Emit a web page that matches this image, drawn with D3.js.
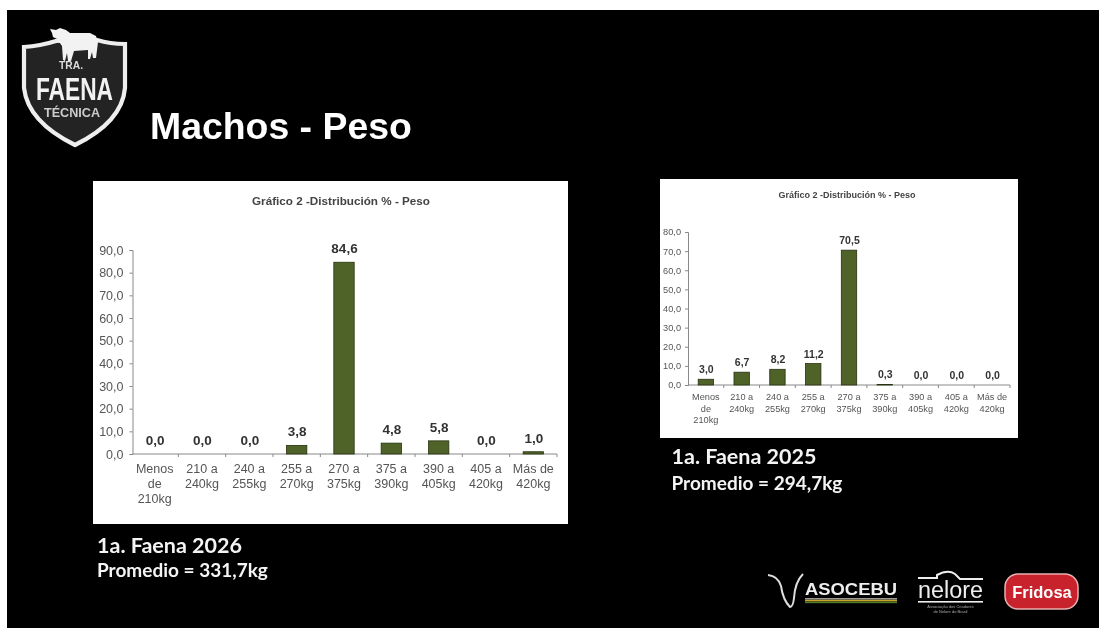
<!DOCTYPE html>
<html>
<head>
<meta charset="utf-8">
<script src="https://cdn.jsdelivr.net/npm/d3@7"></script>
<style>
  html, body { margin: 0; padding: 0; background: #fff; overflow: hidden; }
  svg { display: block; }
  .tick text { fill: #555; }
</style>
</head>
<body>
<div id="slide"></div>
<script>
const categories = [
  ["Menos", "de", "210kg"], ["210 a", "240kg"], ["240 a", "255kg"], ["255 a", "270kg"], ["270 a", "375kg"],
  ["375 a", "390kg"], ["390 a", "405kg"], ["405 a", "420kg"], ["Más de", "420kg"]
];
const values2026 = [0, 0, 0, 3.8, 84.6, 4.8, 5.8, 0, 1.0];
const values2025 = [3.0, 6.7, 8.2, 11.2, 70.5, 0.3, 0, 0, 0];
const ticks2026 = [0, 10, 20, 30, 40, 50, 60, 70, 80, 90];
const ticks2025 = [0, 10, 20, 30, 40, 50, 60, 70, 80];
const chartTitle = "Gráfico 2 -Distribución % - Peso";

const WIDTH = 1099, HEIGHT = 628;
const fmt = d => d.toFixed(1).replace(".", ",");

const svg = d3.select("#slide").append("svg")
  .attr("width", WIDTH)
  .attr("height", HEIGHT);

svg.append("rect").attr("x", 7).attr("y", 10)
  .attr("width", WIDTH - 7).attr("height", HEIGHT - 10).attr("fill", "#000");

svg.append("text")
  .attr("x", 150).attr("y", 139)
  .attr("font-family", "Liberation Sans").attr("font-weight", "bold")
  .attr("font-size", 37.4).attr("fill", "#fff")
  .style("filter", "blur(0.5px)")
  .text("Machos - Peso");

// shield logo top left
const logo = svg.append("g").style("filter", "blur(0.7px)");
logo.append("path")
  .attr("d", "M24 47 Q40 46 56 41 L97 40 Q110 44 125 44 L125 88 Q122 122 75 145 Q28 122 24 88 Z")
  .attr("fill", "#232323").attr("stroke", "#eee").attr("stroke-width", 4.2);
logo.append("path")
  .attr("d", "M50 29 L56 30 L60 28 L66 30 L70 33 L90 33 L96 36 L98 42 L96 58 L93 58 L92 52 L90 59 L88 59 L88 50 L74 51 L71 61 L68 61 L67 53 L65 61 L63 60 L62 46 L57 39 L53 37 L52 33 Z")
  .attr("fill", "#f2f2f2");

function logoText(x, y, w, size, fill, s) {
  logo.append("text").attr("x", x).attr("y", y)
    .attr("textLength", w).attr("lengthAdjust", "spacingAndGlyphs")
    .attr("font-family", "Liberation Sans").attr("font-weight", "bold")
    .attr("font-size", size).attr("fill", fill).text(s);
}
logoText(59, 68.5, 24, 11.5, "#ddd", "TRA.");
logoText(36, 100, 77, 31.5, "#f2f2f2", "FAENA");
logoText(44, 117, 56, 13, "#ccc", "TÉCNICA");

function drawChart(opts) {
  const { box, plot, values, ticks, maxY, fonts } = opts;
  const g = svg.append("g").style("filter", `blur(${opts.blur}px)`);
  g.append("rect")
    .attr("x", box.x).attr("y", box.y)
    .attr("width", box.w).attr("height", box.h)
    .attr("fill", "#fff");

  const x = d3.scaleBand()
    .domain(categories.map((d, i) => i))
    .range([plot.left, plot.right])
    .paddingInner(0.57).paddingOuter(0.285);
  const y = d3.scaleLinear().domain([0, maxY]).range([plot.bottom, plot.top]);

  g.append("text")
    .attr("x", opts.titleX).attr("y", opts.titleY)
    .attr("text-anchor", "middle")
    .attr("font-family", "Liberation Sans").attr("font-weight", "bold")
    .attr("font-size", fonts.title).attr("fill", "#444")
    .text(chartTitle);

  const yAxis = g.append("g")
    .attr("transform", `translate(${plot.axisX},0)`)
    .call(d3.axisLeft(y).tickValues(ticks).tickFormat(fmt).tickSize(3).tickPadding(fonts.tickPad));
  yAxis.selectAll("text").attr("font-family", "Liberation Sans").attr("font-size", fonts.tick);
  yAxis.selectAll("line,path").attr("stroke", "#888");

  // excel style axis: ticks sit between the categories
  const step = x.step();
  const xAxis = g.append("g").attr("transform", `translate(0,${plot.bottom})`);
  xAxis.append("line").attr("x1", plot.axisX).attr("x2", plot.right).attr("stroke", "#888");
  xAxis.selectAll("line.sep").data(d3.range(1, categories.length + 1)).join("line")
    .attr("class", "sep")
    .attr("x1", i => plot.left + i * step).attr("x2", i => plot.left + i * step)
    .attr("y1", 0).attr("y2", 3).attr("stroke", "#888");

  const catLabels = xAxis.selectAll("text").data(categories).join("text")
    .attr("text-anchor", "middle")
    .attr("font-family", "Liberation Sans").attr("font-size", fonts.tick).attr("fill", "#555");
  catLabels.each(function (lines, i) {
    d3.select(this).selectAll("tspan").data(lines).join("tspan")
      .attr("x", x(i) + x.bandwidth() / 2)
      .attr("y", (d, k) => fonts.catY + k * fonts.catLine)
      .text(d => d);
  });

  g.selectAll("rect.bar").data(values).join("rect")
    .attr("class", "bar")
    .attr("x", (d, i) => x(i))
    .attr("y", d => y(d))
    .attr("width", x.bandwidth())
    .attr("height", d => plot.bottom - y(d))
    .attr("fill", "#4f6228")
    .attr("stroke", "#26320f")
    .attr("stroke-width", 0.8);

  g.selectAll("text.val").data(values).join("text")
    .attr("class", "val")
    .attr("x", (d, i) => x(i) + x.bandwidth() / 2 + 0.5)
    .attr("y", d => y(d) - fonts.valGap)
    .attr("text-anchor", "middle")
    .attr("font-family", "Liberation Sans").attr("font-weight", "bold")
    .attr("font-size", fonts.val).attr("fill", "#333")
    .text(fmt);
}

drawChart({
  box: { x: 93, y: 181, w: 475, h: 343 },
  plot: { left: 131, axisX: 132.5, right: 557, top: 250, bottom: 454 },
  values: values2026, ticks: ticks2026, maxY: 90, titleX: 341, titleY: 205, blur: 0.5,
  fonts: { title: 11.7, tick: 12.5, tickPad: 6, val: 13.5, catY: 19, catLine: 15, valGap: 9 }
});

drawChart({
  box: { x: 660, y: 179, w: 358, h: 259 },
  plot: { left: 688, axisX: 688, right: 1010, top: 232, bottom: 385 },
  values: values2025, ticks: ticks2025, maxY: 80, titleX: 847, titleY: 198, blur: 0.6,
  fonts: { title: 9, tick: 9.2, tickPad: 4, val: 10.5, catY: 15, catLine: 11.7, valGap: 6 }
});

function caption(x, y1, y2, a, b) {
  const c = svg.append("g").style("filter", "blur(0.4px)")
    .attr("font-family", "Lato").attr("font-weight", 700).attr("fill", "#f4f4f4");
  c.append("text").attr("x", x).attr("y", y1).attr("font-size", 21.5).text(a);
  c.append("text").attr("x", x).attr("y", y2).attr("font-size", 19).text(b);
}
caption(97, 553, 577, "1a. Faena 2026", "Promedio = 331,7kg");
caption(671.5, 464, 490, "1a. Faena 2025", "Promedio = 294,7kg");

// sponsor logos bottom right
const sponsors = svg.append("g").style("filter", "blur(0.5px)");
sponsors.append("path")
  .attr("d", "M768 575 Q778 576 781 586 Q783 600 790 607 Q793 607 794 598 Q795 582 803 574")
  .attr("fill", "none").attr("stroke", "#ddd").attr("stroke-width", 2);
sponsors.append("text").attr("x", 805).attr("y", 595)
  .attr("textLength", 92).attr("lengthAdjust", "spacingAndGlyphs")
  .attr("font-family", "Liberation Sans").attr("font-weight", "bold")
  .attr("font-size", 17).attr("fill", "#eee").text("ASOCEBU");
sponsors.selectAll("rect.stripe").data(["#999", "#c9a227", "#4f7a2a"]).join("rect")
  .attr("class", "stripe")
  .attr("x", 805).attr("y", (d, i) => 598 + i * 1.8)
  .attr("width", 92).attr("height", 1.6).attr("fill", d => d);
sponsors.append("path")
  .attr("d", "M918 578 L937 578 L937 575 Q948 569 955 574 L960 579 L983 579")
  .attr("fill", "none").attr("stroke", "#eee").attr("stroke-width", 2);
sponsors.append("text").attr("x", 950.5).attr("y", 598).attr("text-anchor", "middle")
  .attr("textLength", 65).attr("lengthAdjust", "spacingAndGlyphs")
  .attr("font-family", "Liberation Sans").attr("font-size", 23).attr("fill", "#eee").text("nelore");
sponsors.append("rect").attr("x", 918).attr("y", 601).attr("width", 65).attr("height", 1.6).attr("fill", "#eee");
sponsors.selectAll("text.sub").data(["Associação dos Criadores", "de Nelore do Brasil"]).join("text")
  .attr("class", "sub")
  .attr("x", 950.5).attr("y", (d, i) => 608 + i * 5).attr("text-anchor", "middle")
  .attr("font-family", "Liberation Sans").attr("font-size", 4).attr("fill", "#aaa").text(d => d);
sponsors.append("rect").attr("x", 1005).attr("y", 574).attr("width", 73).attr("height", 35)
  .attr("rx", 13).attr("fill", "#c8232c").attr("stroke", "#e8b0b0").attr("stroke-width", 1.5);
sponsors.append("text").attr("x", 1042).attr("y", 598).attr("text-anchor", "middle")
  .attr("font-family", "Liberation Sans").attr("font-weight", "bold")
  .attr("font-size", 16.5).attr("fill", "#fff").text("Fridosa");
</script>
</body>
</html>
